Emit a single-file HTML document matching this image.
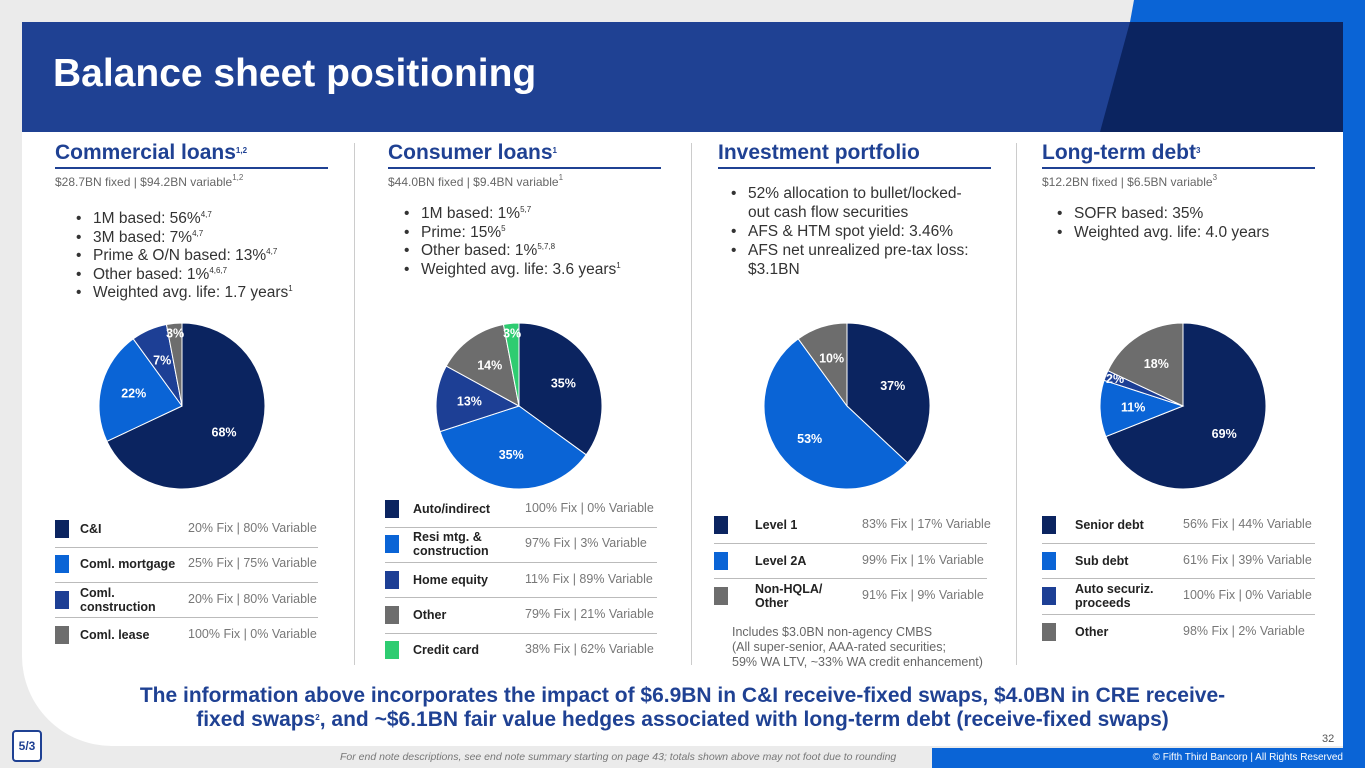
<!DOCTYPE html>
<html><head><meta charset="utf-8"><style>
body{margin:0;width:1365px;height:768px;overflow:hidden;background:#ebebeb;font-family:"Liberation Sans",sans-serif;position:relative}
.a{position:absolute;white-space:nowrap}
.h{font-size:21px;font-weight:bold;color:#1f4193}
.ul{position:absolute;height:2px;background:#1f4193;width:273px;top:167px}
.sub{font-size:12px;color:#666;top:175px}
.bl{font-size:15.5px;color:#333;line-height:18.6px;margin:0;padding-left:28px}
.bl li{list-style:none;position:relative}
.bl li:before{content:"•";position:absolute;left:-17px}
sup{font-size:8px;line-height:0;vertical-align:6px}
.sw{position:absolute;width:14px;height:18px}
.nm{font-size:12.5px;font-weight:bold;color:#222;line-height:14px}
.vl{font-size:12.5px;color:#777}
.sep{position:absolute;height:1px;background:#bbb}
.dv{position:absolute;width:1px;background:#ccc;top:143px;height:522px}
</style></head><body>
<div class="a" style="left:1130px;top:0;width:235px;height:22px;background:#0a64d6;clip-path:polygon(4px 0,100% 0,100% 100%,0 100%)"></div>
<div class="a" style="left:932px;top:748px;width:433px;height:20px;background:#0a64d6"></div>
<div class="a" style="left:22px;top:22px;width:1321px;height:724px;background:#fff;border-bottom-left-radius:90px"></div>
<div class="a" style="left:22px;top:22px;width:1321px;height:110px;background:#1f4193"></div>
<div class="a" style="left:1100px;top:22px;width:243px;height:110px;background:#0b2460;clip-path:polygon(30px 0,100% 0,100% 100%,0 100%)"></div>
<div class="a" style="left:1343px;top:22px;width:22px;height:726px;background:#0a64d6"></div>
<div class="a" style="left:53px;top:52px;font-size:39px;font-weight:bold;color:#fff">Balance sheet positioning</div>

<div class="dv" style="left:354px"></div>
<div class="dv" style="left:691px"></div>
<div class="dv" style="left:1016px"></div>

<div class="a h" style="left:55px;top:141px">Commercial loans<sup>1,2</sup></div>
<div class="ul" style="left:55px"></div>
<div class="a sub" style="left:55px">$28.7BN fixed | $94.2BN variable<sup>1,2</sup></div>
<ul class="a bl" style="left:65px;top:210px"><li>1M based: 56%<sup>4,7</sup></li><li>3M based: 7%<sup>4,7</sup></li><li>Prime &amp; O/N based: 13%<sup>4,7</sup></li><li>Other based: 1%<sup>4,6,7</sup></li><li>Weighted avg. life: 1.7 years<sup>1</sup></li></ul>

<div class="a h" style="left:388px;top:141px">Consumer loans<sup>1</sup></div>
<div class="ul" style="left:388px"></div>
<div class="a sub" style="left:388px">$44.0BN fixed | $9.4BN variable<sup>1</sup></div>
<ul class="a bl" style="left:393px;top:205px"><li>1M based: 1%<sup>5,7</sup></li><li>Prime: 15%<sup>5</sup></li><li>Other based: 1%<sup>5,7,8</sup></li><li>Weighted avg. life: 3.6 years<sup>1</sup></li></ul>

<div class="a h" style="left:718px;top:141px">Investment portfolio</div>
<div class="ul" style="left:718px"></div>
<ul class="a bl" style="left:720px;top:184px;line-height:19px"><li>52% allocation to bullet/locked-<br>out cash flow securities</li><li>AFS &amp; HTM spot yield: 3.46%</li><li>AFS net unrealized pre-tax loss:<br>$3.1BN</li></ul>

<div class="a h" style="left:1042px;top:141px">Long-term debt<sup>3</sup></div>
<div class="ul" style="left:1042px"></div>
<div class="a sub" style="left:1042px">$12.2BN fixed | $6.5BN variable<sup>3</sup></div>
<ul class="a bl" style="left:1046px;top:205px"><li>SOFR based: 35%</li><li>Weighted avg. life: 4.0 years</li></ul>

<svg class="a" id="pies" style="left:0;top:0" width="1365" height="768"></svg>
<div id="legends"></div>

<div class="a" style="left:732px;top:625px;font-size:12.5px;color:#666;line-height:15px">Includes $3.0BN non-agency CMBS<br>(All super-senior, AAA-rated securities;<br>59% WA LTV, ~33% WA credit enhancement)</div>

<div class="a" style="left:0;width:1365px;top:684px;text-align:center;font-size:21px;font-weight:bold;color:#1f4193;line-height:24px">The information above incorporates the impact of $6.9BN in C&amp;I receive-fixed swaps, $4.0BN in CRE receive-<br>fixed swaps<sup>2</sup>, and ~$6.1BN fair value hedges associated with long-term debt (receive-fixed swaps)</div>
<div class="a" style="left:1322px;top:733px;font-size:11px;color:#555">32</div>
<div class="a" style="left:12px;top:730px;width:26px;height:28px;border:2px solid #1f4193;border-radius:4px;background:#fff;font-size:12px;font-weight:bold;color:#1f4193;text-align:center;line-height:28px">5/3</div>
<div class="a" style="left:340px;top:751px;font-size:10.5px;font-style:italic;color:#777">For end note descriptions, see end note summary starting on page 43; totals shown above may not foot due to rounding</div>
<div class="a" style="right:22px;top:752px;font-size:10px;color:#fff">© Fifth Third Bancorp | All Rights Reserved</div>

<script>
const C=['#0b2460','#0a64d6','#1d3f95','#6d6d6d','#2ecc71'];
const commercialVals=[68,22,7,3];
const commercialColors=[0,1,2,3];
const consumerVals=[35,35,13,14,3];
const consumerColors=[0,1,2,3,4];
const investVals=[37,53,10];
const investColors=[0,1,3];
const ltdVals=[69,11,2,18];
const ltdColors=[0,1,2,3];
const commercialCats=['C&I','Coml. mortgage','Coml.<br>construction','Coml. lease'];
const commercialFix=['20% Fix | 80% Variable','25% Fix | 75% Variable','20% Fix | 80% Variable','100% Fix | 0% Variable'];
const consumerCats=['Auto/indirect','Resi mtg. &amp;<br>construction','Home equity','Other','Credit card'];
const consumerFix=['100% Fix | 0% Variable','97% Fix | 3% Variable','11% Fix | 89% Variable','79% Fix | 21% Variable','38% Fix | 62% Variable'];
const investCats=['Level 1','Level 2A','Non-HQLA/<br>Other'];
const investFix=['83% Fix | 17% Variable','99% Fix | 1% Variable','91% Fix | 9% Variable'];
const ltdCats=['Senior debt','Sub debt','Auto securiz.<br>proceeds','Other'];
const ltdFix=['56% Fix | 44% Variable','61% Fix | 39% Variable','100% Fix | 0% Variable','98% Fix | 2% Variable'];
const NS='http://www.w3.org/2000/svg';
const svg=document.getElementById('pies');
function pie(cx,cy,r,vals,cols,name){
  const tot=vals.reduce((a,b)=>a+b,0);let a0=0;
  vals.forEach((v,i)=>{
    const a1=a0+v/tot*2*Math.PI;
    const p=t=>[cx+r*Math.sin(t),cy-r*Math.cos(t)];
    const [x0,y0]=p(a0),[x1,y1]=p(a1);
    const path=document.createElementNS(NS,'path');
    path.setAttribute('d',`M${cx},${cy}L${x0},${y0}A${r},${r} 0 ${a1-a0>Math.PI?1:0} 1 ${x1},${y1}Z`);
    path.setAttribute('fill',C[cols[i]]);path.setAttribute('stroke','#fff');path.setAttribute('stroke-width','1');
    
    
    svg.appendChild(path);
    const m=(a0+a1)/2,f=v<5?0.88:0.6;
    const t=document.createElementNS(NS,'text');
    t.setAttribute('x',cx+r*f*Math.sin(m));t.setAttribute('y',cy-r*f*Math.cos(m)+4);
    t.setAttribute('text-anchor','middle');t.setAttribute('fill','#fff');
    t.setAttribute('font-size','12.5');t.setAttribute('font-weight','bold');t.setAttribute('font-family','Liberation Sans');
    t.textContent=v+'%';
    
    
    svg.appendChild(t);
    a0=a1;
  });
}
pie(182,406,83,commercialVals,commercialColors,'commercial');
pie(519,406,83,consumerVals,consumerColors,'consumer');
pie(847,406,83,investVals,investColors,'investment');
pie(1183,406,83,ltdVals,ltdColors,'ltd');
const L=document.getElementById('legends');
function legend(x,y0,step,cats,fix,cols,nx,vx,w,name){
  cats.forEach((c,i)=>{
    const y=y0+i*step;
    const s=document.createElement('div');s.className='sw';
    s.style.left=x+'px';s.style.top=(y-9)+'px';s.style.background=C[cols[i]];
    
    
    L.appendChild(s);
    const n=document.createElement('div');n.className='a nm';n.innerHTML=c;
    n.style.left=nx+'px';n.style.top=(y-(c.includes('<br>')?14:7))+'px';
    
    
    L.appendChild(n);
    const v=document.createElement('div');v.className='a vl';v.textContent=fix[i];
    v.style.left=vx+'px';v.style.top=(y-8)+'px';
    
    
    L.appendChild(v);
    if(i<cats.length-1){const l=document.createElement('div');l.className='sep';
      l.style.left=x+'px';l.style.width=w+'px';l.style.top=(y+step/2)+'px';
      
      
      L.appendChild(l);}
  });
}
legend(55,529,35.3,commercialCats,commercialFix,commercialColors,80,188,263,'commercial');
legend(385,509,35.3,consumerCats,consumerFix,consumerColors,413,525,272,'consumer');
legend(714,525,35.5,investCats,investFix,investColors,755,862,273,'investment');
legend(1042,525,35.5,ltdCats,ltdFix,ltdColors,1075,1183,273,'ltd');
</script>
</body></html>
